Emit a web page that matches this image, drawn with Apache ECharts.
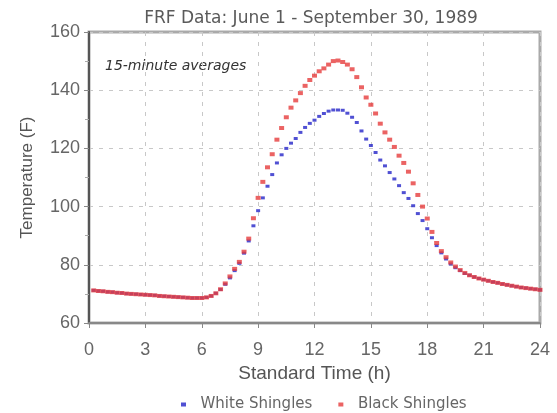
<!DOCTYPE html>
<html>
<head>
<meta charset="utf-8">
<script src="https://cdn.jsdelivr.net/npm/echarts@6/dist/echarts.min.js"></script>
<style>
    html, body { margin: 0; padding: 0; background: #fff; }
    #chart { width: 557px; height: 413px; }
</style>
</head>
<body>
<div id="chart"></div>
<script>
// 15 分钟平均值，时间（小时）
const hours = [
    0.25, 0.5, 0.75, 1, 1.25, 1.5, 1.75, 2, 2.25, 2.5, 2.75, 3,
    3.25, 3.5, 3.75, 4, 4.25, 4.5, 4.75, 5, 5.25, 5.5, 5.75, 6,
    6.25, 6.5, 6.75, 7, 7.25, 7.5, 7.75, 8, 8.25, 8.5, 8.75, 9,
    9.25, 9.5, 9.75, 10, 10.25, 10.5, 10.75, 11, 11.25, 11.5, 11.75, 12,
    12.25, 12.5, 12.75, 13, 13.25, 13.5, 13.75, 14, 14.25, 14.5, 14.75, 15,
    15.25, 15.5, 15.75, 16, 16.25, 16.5, 16.75, 17, 17.25, 17.5, 17.75, 18,
    18.25, 18.5, 18.75, 19, 19.25, 19.5, 19.75, 20, 20.25, 20.5, 20.75, 21,
    21.25, 21.5, 21.75, 22, 22.25, 22.5, 22.75, 23, 23.25, 23.5, 23.75, 24
];

const whiteShingles = [
    71.2, 71.0, 70.9, 70.7, 70.6, 70.4, 70.3, 70.1, 70.0, 69.9, 69.8, 69.7,
    69.6, 69.5, 69.3, 69.2, 69.1, 69.0, 68.9, 68.8, 68.7, 68.6, 68.6, 68.6,
    68.8, 69.3, 70.2, 71.5, 73.3, 75.5, 78.0, 80.5, 84.0, 88.2, 93.4, 98.6,
    103.0, 107.0, 111.0, 115.0, 117.8, 120.0, 121.8, 123.4, 125.5, 127.2, 128.6, 129.7,
    131.0, 132.0, 132.8, 133.2, 133.2, 133.1, 132.1, 130.7, 128.9, 126.0, 123.2, 121.0,
    118.6, 116.0, 114.0, 111.7, 109.5, 107.2, 104.8, 102.8, 100.3, 97.6, 95.2, 92.4,
    89.3, 86.6, 84.1, 82.0, 80.3, 79.0, 78.0, 77.0, 76.4, 75.8, 75.3, 74.9,
    74.5, 74.1, 73.8, 73.4, 73.1, 72.8, 72.5, 72.2, 72.0, 71.8, 71.6, 71.4
];

const blackShingles = [
    71.2, 71.0, 70.9, 70.7, 70.6, 70.4, 70.3, 70.1, 70.0, 69.9, 69.8, 69.7,
    69.6, 69.5, 69.3, 69.2, 69.1, 69.0, 68.9, 68.8, 68.7, 68.6, 68.6, 68.6,
    68.8, 69.3, 70.2, 71.6, 73.6, 76.0, 78.6, 81.0, 84.5, 89.0, 96.0, 103.0,
    108.5, 113.5, 118.0, 123.0, 127.0, 130.7, 134.0, 136.5, 139.0, 141.5, 143.5, 145.0,
    146.5, 147.5, 148.8, 150.0, 150.2, 149.7, 148.8, 147.2, 144.5, 141.0, 137.5, 135.0,
    132.0, 128.5, 125.5, 123.0, 120.5, 117.5, 115.0, 112.0, 108.0, 104.0, 100.0, 95.9,
    91.3, 87.5, 84.7, 82.6, 80.8, 79.4, 78.2, 77.2, 76.4, 75.8, 75.3, 74.9,
    74.5, 74.1, 73.8, 73.4, 73.1, 72.8, 72.5, 72.2, 72.0, 71.8, 71.6, 71.4
];

const seriesNames = ["White Shingles", "Black Shingles"];
const seriesColors = ["#2424c8", "#e63c3c"];

const toPairs = values => values.map((v, i) => [hours[i], v]);

const chart = echarts.init(document.getElementById("chart"));

const option = {
    animation: false,
    title: {
        text: "FRF Data: June 1 - September 30, 1989",
        left: 306,
        textAlign: "center",
        top: 5,
        textStyle: {
            fontFamily: "DejaVu Sans",
            fontSize: 17,
            fontWeight: "normal",
            color: "#5a5a5a"
        }
    },
    legend: {
        data: seriesNames,
        top: 392,
        left: 176,
        icon: "rect",
        itemWidth: 5,
        itemHeight: 4,
        itemGap: 26,
        formatter: name => "  " + name,
        textStyle: {
            fontFamily: "DejaVu Sans",
            fontSize: 15,
            color: "#666"
        }
    },
    grid: {
        left: 89,
        right: 17,
        top: 32,
        bottom: 90,
        show: true,
        borderColor: "#aaa",
        borderWidth: 3
    },
    graphic: [
        {
            type: "text",
            left: 105,
            top: 59,
            style: {
                text: "15-minute averages",
                font: "italic 14px 'DejaVu Sans'",
                fill: "#333"
            }
        }
    ],
    xAxis: {
        type: "value",
        min: 0,
        max: 24,
        interval: 3,
        name: "Standard Time (h)",
        nameLocation: "middle",
        nameGap: 40,
        nameTextStyle: {
            fontFamily: "Liberation Sans",
            fontSize: 19,
            color: "#555"
        },
        axisLine: { lineStyle: { color: "#888", width: 2 } },
        axisTick: { show: true, length: 5, lineStyle: { color: "#888" } },
        axisLabel: {
            fontFamily: "Liberation Sans",
            fontSize: 18,
            color: "#666",
            margin: 18
        },
        splitLine: {
            show: true,
            lineStyle: { color: "#c8c8c8", type: [4, 6] }
        }
    },
    yAxis: {
        type: "value",
        min: 60,
        max: 160,
        interval: 20,
        name: "Temperature (F)",
        nameLocation: "middle",
        nameGap: 53,
        nameTextStyle: {
            fontFamily: "Liberation Sans",
            fontSize: 17,
            color: "#555"
        },
        axisLine: { show: true, lineStyle: { color: "#555", width: 2 } },
        axisTick: { show: true, length: 5, lineStyle: { color: "#888" } },
        minorTick: { show: true, splitNumber: 2, length: 4, lineStyle: { color: "#aaa" } },
        axisLabel: {
            fontFamily: "Liberation Sans",
            fontSize: 18,
            color: "#666",
            margin: 9
        },
        splitLine: {
            show: true,
            lineStyle: { color: "#c8c8c8", type: [4, 6] }
        }
    },
    series: [
        {
            name: seriesNames[0],
            type: "scatter",
            symbol: "rect",
            symbolSize: [4, 3],
            itemStyle: { color: seriesColors[0] },
            data: toPairs(whiteShingles),
            z: 2
        },
        {
            name: seriesNames[1],
            type: "scatter",
            symbol: "rect",
            symbolSize: [5, 4],
            itemStyle: { color: seriesColors[1] },
            data: toPairs(blackShingles),
            z: 3
        }
    ]
};

chart.setOption(option);
</script>
</body>
</html>
